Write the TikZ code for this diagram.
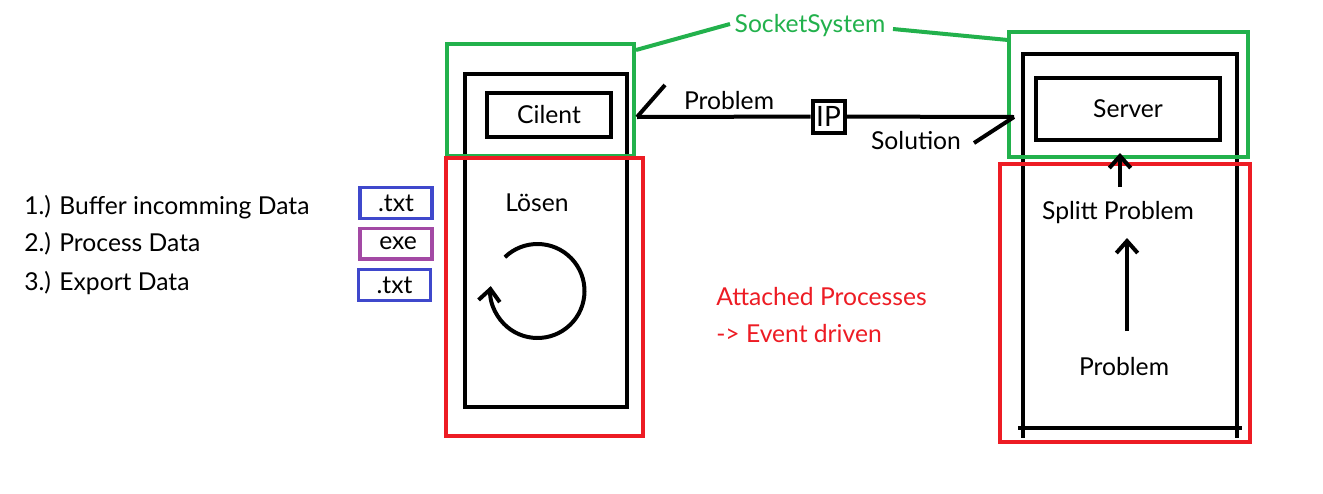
\documentclass[tikz,border=0pt]{standalone}
\usepackage{fontspec}
\setmainfont{Lato}
\usetikzlibrary{arrows.meta}
\definecolor{pgreen}{HTML}{22B14C}
\definecolor{pred}{HTML}{ED1C24}
\definecolor{pblue}{HTML}{3F48CC}
\definecolor{ppurple}{HTML}{A349A4}
\tikzset{
  blk/.style={draw=black,line width=3pt},
  grn/.style={draw=pgreen,line width=3pt},
  rd/.style={draw=pred,line width=3pt},
  txt/.style={font=\fontsize{18.5}{22}\selectfont,inner sep=0pt},
  tag/.style={txt,minimum width=54pt,minimum height=23pt,line width=2.5pt},
  arr/.style={blk,-{Straight Barb[length=9pt,width=16pt,line width=3pt]}},
}
\begin{document}
\begin{tikzpicture}[x=0.75pt,y=-0.75pt]
\useasboundingbox (0,0) rectangle (1323,493);
% client side
\draw[blk] (465,74) rectangle (627,407);
\node[blk,txt,minimum width=93pt,minimum height=33pt] (cli) at (549,115) {Cilent};
\draw[grn] (447,44) rectangle (634,156);
\draw[rd] (446,158) rectangle (643,436);
\node[txt] (losen) at (537,203) {Lösen};
\coordinate (cc) at (537.5,291);
\draw[arr] (cc) ++(-134:47) arc[start angle=-134,end angle=186,radius=47];
% server side
\draw[blk] (1023,52) -- (1023,438);
\draw[blk] (1237,52) -- (1237,438);
\draw[blk] (1021,54) -- (1239,54);
\draw[blk] (1018,428) -- (1242,428);
\node[blk,txt,minimum width=138pt,minimum height=46pt] (srv) at (1128,109) {Server};
\draw[grn] (1009,32) rectangle (1248,157);
\draw[rd] (1000,164) rectangle (1250,442);
\node[txt] (split) at (1118,213) {Splitt Problem};
\node[txt] (prob) at (1124,366) {Problem};
\draw[arr] (1120,187) -- (1120,153);
\draw[arr] (1127,331) -- (1127,238);
% connection
\coordinate (cl) at (637,117);
\coordinate (sr) at (1014,117);
\node[blk,txt,font=\fontsize{21}{24}\selectfont,minimum width=24pt,minimum height=24pt,fill=white] (ip) at (828.5,116.5) {IP};
\draw[blk] (cl) -- (ip) -- (sr);
\draw[blk] (cl) -- (665,85);
\draw[blk] (sr) -- (974,143);
\node[txt] (lprob) at (729,100) {Problem};
\node[txt] (lsol) at (916,141) {Solution};
% socket system
\node[txt,text=pgreen] (sock) at (810,26) {SocketSystem};
\draw[grn] (636,50) -- (730,24);
\draw[grn] (893,29) -- (1008,40);
% list
\node[txt,anchor=west] (l1) at (24,207) {1.) Buffer incomming Data};
\node[txt,anchor=west] (l2) at (24,244) {2.) Process Data};
\node[txt,anchor=west] (l3) at (24,283) {3.) Export Data};
\node[tag,draw=pblue] (t1) at (396,203) {.txt};
\node[tag,draw=ppurple] (t2) at (396,243.5) {\,exe};
\node[tag,draw=pblue] (t3) at (394.5,285) {.txt};
% red note
\node[txt,text=pred,anchor=west] (n1) at (716,297) {Attached Processes};
\node[txt,text=pred,anchor=west] (n2) at (716,334) {-> Event driven};
\end{tikzpicture}
\end{document}
